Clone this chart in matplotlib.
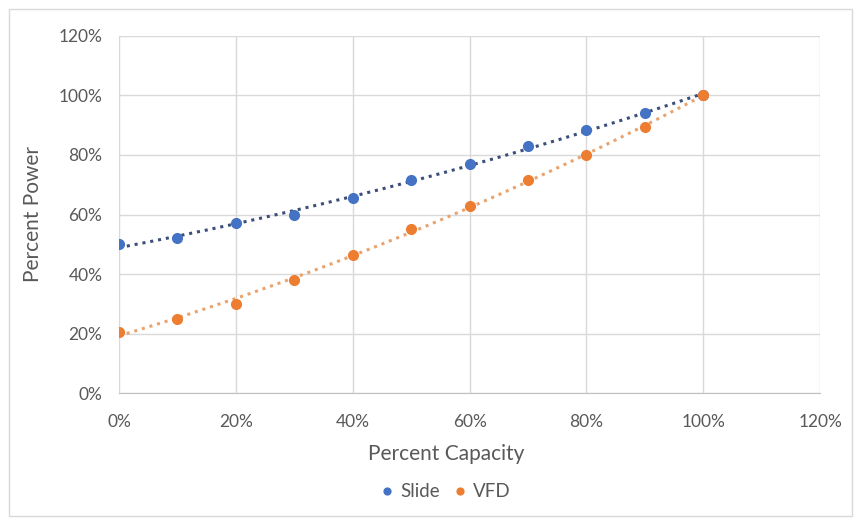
import matplotlib.pyplot as plt
from matplotlib.patches import Rectangle
from matplotlib.ticker import PercentFormatter
import numpy as np

# percent capacity vs percent power for the two control types
capacity = [0, 10, 20, 30, 40, 50, 60, 70, 80, 90, 100]
slide_power = [50, 52, 57, 60, 65.5, 71.5, 77, 83, 88.5, 94, 100]
vfd_power = [20.5, 25, 30, 38, 46.5, 55, 63, 71.5, 80, 89.5, 100]

series_names = ['Slide', 'VFD']
series_colors = ['#4472C4', '#ED7D31']
trend_colors = ['#3b4f7a', '#e8a36e']

plt.rcParams['font.family'] = ['Lato', 'DejaVu Sans']

fig = plt.figure(figsize=(8.57, 5.2), dpi=100)
ax = fig.add_axes([0.1389, 0.2442, 0.957 - 0.1389, 0.9308 - 0.2442])

# light frame around the whole chart
fig.patches.append(Rectangle((0.011, 0.008), 0.983, 0.975, transform=fig.transFigure,
                             fill=False, edgecolor='#d9d9d9', linewidth=1))

x = np.array(capacity, dtype=float)
for ys, name, col, tcol in zip([slide_power, vfd_power], series_names, series_colors, trend_colors):
    ys = np.array(ys, dtype=float)
    # second order trendline through the points
    coef = np.polyfit(x, ys, 2)
    xs = np.linspace(0, 100, 200)
    ax.plot(xs, np.polyval(coef, xs), linestyle=(0, (1, 1.6)), color=tcol,
            linewidth=2.2, zorder=2)
    ax.plot(x, ys, 'o', color=col, markersize=7, label=name, zorder=3)

ax.set_xlim(0, 120)
ax.set_ylim(0, 120)
ax.set_xticks(np.arange(0, 121, 20))
ax.set_yticks(np.arange(0, 121, 20))
ax.xaxis.set_major_formatter(PercentFormatter(decimals=0))
ax.yaxis.set_major_formatter(PercentFormatter(decimals=0))
ax.grid(True, color='#d9d9d9', linewidth=1)
ax.set_axisbelow(True)
for s in ax.spines.values():
    s.set_visible(False)
ax.spines['bottom'].set_visible(True)
ax.spines['bottom'].set_color('#bfbfbf')
ax.spines['left'].set_visible(True)
ax.spines['left'].set_color('#d9d9d9')
ax.tick_params(length=0, labelsize=12.5, labelcolor='#595959')
ax.tick_params(axis='x', pad=15)
ax.tick_params(axis='y', pad=12)

ax.set_xlabel('Percent Capacity', fontsize=15, color='#595959')
ax.xaxis.set_label_coords(0.466, -0.143)
ax.set_ylabel('Percent Power', fontsize=15, color='#595959', labelpad=11)

fig.legend(loc='center', bbox_to_anchor=(0.516, 0.054), ncol=2, frameon=False,
           fontsize=13.5, labelcolor='#595959', handletextpad=0.0, columnspacing=0.4,
           markerscale=0.7, handlelength=1.4)

fig.savefig('out.png', dpi=100)
